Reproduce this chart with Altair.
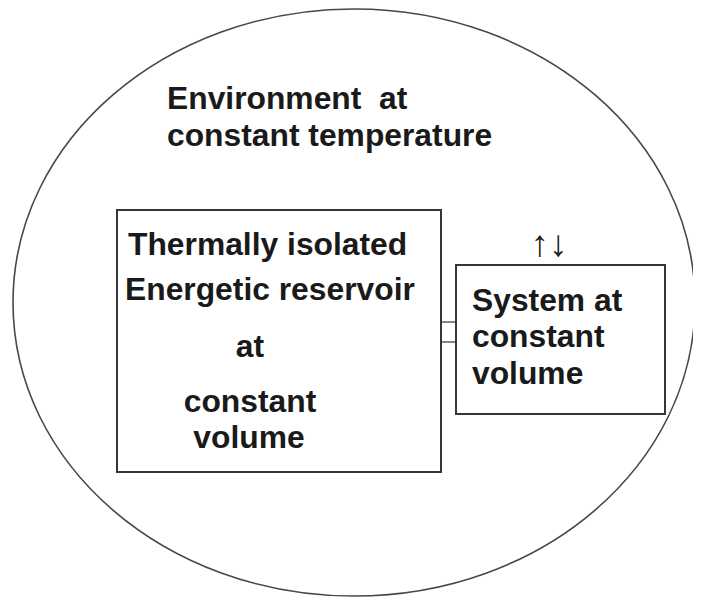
import altair as alt
import pandas as pd

# ---- diagram values (page pixels: x to the right, y downward) ----
box_names = ["Energetic reservoir", "System"]
box_left = [117, 456]
box_right = [441, 665]
box_top = [210, 265]
box_bottom = [472, 414]

link_names = ["upper link", "lower link"]
link_x0 = [441, 441]
link_x1 = [456, 456]
link_y = [322, 342]

env_x = [354]
env_y = [302.5]
env_width = [682]    # horizontal diameter of the environment ellipse
env_height = [587]   # vertical diameter of the environment ellipse

text_lines = [
    "Environment \u00a0at", "constant temperature",
    "Thermally isolated", "Energetic reservoir", "at", "constant", "volume",
    "System at", "constant", "volume",
]
text_x = [167, 167, 128, 125, 250, 250, 249, 472, 472, 472]
text_y = [109, 146, 255, 300, 357, 412, 448, 311, 347, 384]
text_align = ["left", "left", "left", "left", "center", "center", "center", "left", "left", "left"]

arrow_text = ["↑↓"]
arrow_x = [549]
arrow_y = [245]

# ---- tables ----
boxes = pd.DataFrame({"name": box_names, "x": box_left, "x2": box_right, "y": box_top, "y2": box_bottom})
links = pd.DataFrame({"name": link_names, "x": link_x0, "x2": link_x1, "y": link_y})
env = pd.DataFrame({"x": env_x, "y": env_y, "w": env_width, "h": env_height})
texts = pd.DataFrame({"t": text_lines, "x": text_x, "y": text_y, "a": text_align})
arrows = pd.DataFrame({"t": arrow_text, "x": arrow_x, "y": arrow_y})

W, H = 685, 589
xs = alt.Scale(domain=[8, 8 + W], nice=False, zero=False)
ys = alt.Scale(domain=[8, 8 + H], nice=False, zero=False, reverse=True)
X = lambda f="x": alt.X(f"{f}:Q", scale=xs, axis=None)
Y = lambda f="y": alt.Y(f"{f}:Q", scale=ys, axis=None)

ratio = env_height[0] / env_width[0]
ell_path = f"M -1 0 A 1 {ratio:.4f} 0 1 1 1 0 A 1 {ratio:.4f} 0 1 1 -1 0 Z"

ellipse = alt.Chart(env).mark_point(
    shape=ell_path, filled=False, stroke="#474747", strokeWidth=1.6,
    size=env_width[0] ** 2, opacity=1, clip=False,
).encode(x=X(), y=Y())

rects = alt.Chart(boxes).mark_rect(
    fill="white", stroke="#363636", strokeWidth=2, clip=False
).encode(x=X(), x2="x2:Q", y=Y(), y2="y2:Q")

rules = alt.Chart(links).mark_rule(color="#333333", strokeWidth=1.2).encode(
    x=X(), x2="x2:Q", y=Y()
)

FONT = "Liberation Sans, Arial, Helvetica, sans-serif"

def text_layer(align):
    return alt.Chart(texts).transform_filter(alt.datum.a == align).mark_text(
        align=align, baseline="alphabetic", font=FONT, fontSize=31.8,
        fontWeight="bold", color="#1a1a1a",
    ).encode(x=X(), y=Y(), text="t:N")

arrow_layer = alt.Chart(arrows).mark_text(
    align="center", baseline="middle", font=FONT, fontSize=37, color="#1e1e1e"
).encode(x=X(), y=Y(), text="t:N")

chart = alt.layer(
    ellipse, rects, rules, text_layer("left"), text_layer("center"), arrow_layer
).properties(
    width=W, height=H, padding=0, autosize=alt.AutoSizeParams(type="none"),
    background="white",
).configure_view(stroke=None)

chart.save("out.html", embed_options={"renderer": "svg", "actions": False})
